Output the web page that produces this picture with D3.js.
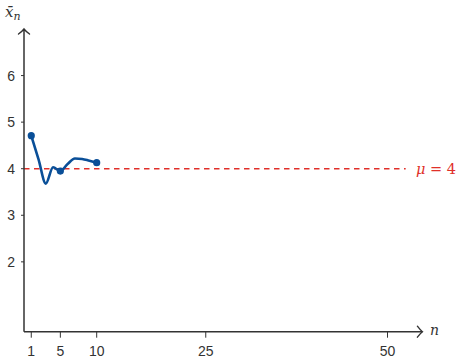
<!DOCTYPE html>
<html>
<head>
<meta charset="utf-8">
<script src="https://cdn.jsdelivr.net/npm/d3@7"></script>
<style>
  html, body { margin: 0; padding: 0; background: #fff; }
  svg { display: block; }
</style>
</head>
<body>
<svg id="chart" width="459" height="358"></svg>
<script>
// Running sample mean for the first ten draws
const sampleSizes = [1, 2, 3, 4, 5, 6, 7, 8, 9, 10];
const runningMeans = [4.71, 4.2, 3.68, 4.03, 3.95, 4.1, 4.22, 4.21, 4.17, 4.13];
const markedSizes = [1, 5, 10];
const trueMean = 4;
const xTickValues = [1, 5, 10, 25, 50];
const yTickValues = [2, 3, 4, 5, 6];

const svg = d3.select("#chart");
const ink = "#333";
const blue = "#0a4f98";
const red = "#e0302a";

const x = d3.scaleLinear().domain([0, 50]).range([24, 387.5]);
const y = d3.scaleLinear().domain([0.5, 7]).range([331.7, 29]);

const x0 = x(0), yBase = y(0.5);
const xEnd = x(54.8), yTop = y(7);

// Reference line at the true mean
svg.append("line")
  .attr("x1", x0).attr("x2", x(52.5))
  .attr("y1", y(trueMean)).attr("y2", y(trueMean))
  .attr("stroke", red).attr("stroke-width", 1.4)
  .attr("stroke-dasharray", "5.5,4.5");

const muLabel = svg.append("text")
  .attr("x", 416).attr("y", y(trueMean) + 5)
  .attr("fill", red)
  .attr("font-family", "'DejaVu Serif', 'Liberation Serif', serif")
  .attr("font-size", 14.5);
muLabel.append("tspan").attr("font-style", "italic").text("μ");
muLabel.append("tspan").text(" = 4");

// Axes
svg.append("line")
  .attr("x1", x0).attr("x2", xEnd)
  .attr("y1", yBase).attr("y2", yBase)
  .attr("stroke", ink).attr("stroke-width", 1.5);
svg.append("line")
  .attr("x1", x0).attr("x2", x0)
  .attr("y1", yBase).attr("y2", yTop)
  .attr("stroke", ink).attr("stroke-width", 1.5);

// Arrow heads
svg.append("path")
  .attr("d", `M${xEnd - 5},${yBase - 5.5} Q${xEnd - 2},${yBase - 1.5} ${xEnd},${yBase} Q${xEnd - 2},${yBase + 1.5} ${xEnd - 5},${yBase + 5.5}`)
  .attr("fill", "none").attr("stroke", ink).attr("stroke-width", 1.4)
  .attr("stroke-linecap", "round");
svg.append("path")
  .attr("d", `M${x0 - 5.5},${yTop + 5} Q${x0 - 1.5},${yTop + 2} ${x0},${yTop} Q${x0 + 1.5},${yTop + 2} ${x0 + 5.5},${yTop + 5}`)
  .attr("fill", "none").attr("stroke", ink).attr("stroke-width", 1.4)
  .attr("stroke-linecap", "round");

// Ticks and tick labels
const tickFont = "'Liberation Sans', Arial, sans-serif";
const xTicks = svg.append("g").selectAll("g").data(xTickValues).join("g");
xTicks.append("line")
  .attr("x1", d => x(d)).attr("x2", d => x(d))
  .attr("y1", yBase).attr("y2", yBase + 6)
  .attr("stroke", ink).attr("stroke-width", 1);
xTicks.append("text")
  .attr("x", d => x(d)).attr("y", 355.5)
  .attr("text-anchor", "middle")
  .attr("font-family", tickFont).attr("font-size", 14)
  .attr("fill", ink)
  .text(d => d);

const yTicks = svg.append("g").selectAll("g").data(yTickValues).join("g");
yTicks.append("line")
  .attr("x1", x0 - 3).attr("x2", x0)
  .attr("y1", d => y(d)).attr("y2", d => y(d))
  .attr("stroke", ink).attr("stroke-width", 1);
yTicks.append("text")
  .attr("x", 15).attr("y", d => y(d) + 5)
  .attr("text-anchor", "end")
  .attr("font-family", tickFont).attr("font-size", 14)
  .attr("fill", ink)
  .text(d => d);

// Axis titles
const serif = "'DejaVu Serif', 'Liberation Serif', serif";
const yTitle = svg.append("text")
  .attr("x", 5).attr("y", 17)
  .attr("fill", ink)
  .attr("font-family", serif).attr("font-size", 15)
  .attr("font-style", "italic");
yTitle.append("tspan").text("x\u0304");
yTitle.append("tspan").attr("font-size", 11).attr("dy", 3).text("n");

svg.append("text")
  .attr("x", 430).attr("y", 335)
  .attr("fill", ink)
  .attr("font-family", serif).attr("font-size", 14)
  .attr("font-style", "italic")
  .text("n");

// Running mean curve
const pts = sampleSizes.map((n, i) => ({ n, v: runningMeans[i] }));
const line = d3.line()
  .x(d => x(d.n)).y(d => y(d.v))
  .curve(d3.curveMonotoneX);
svg.append("path")
  .datum(pts)
  .attr("d", line)
  .attr("fill", "none")
  .attr("stroke", blue)
  .attr("stroke-width", 2.6)
  .attr("stroke-linejoin", "round");

svg.append("g").selectAll("circle")
  .data(pts.filter(d => markedSizes.includes(d.n)))
  .join("circle")
  .attr("cx", d => x(d.n)).attr("cy", d => y(d.v))
  .attr("r", 3.6)
  .attr("fill", blue);
</script>
</body>
</html>
